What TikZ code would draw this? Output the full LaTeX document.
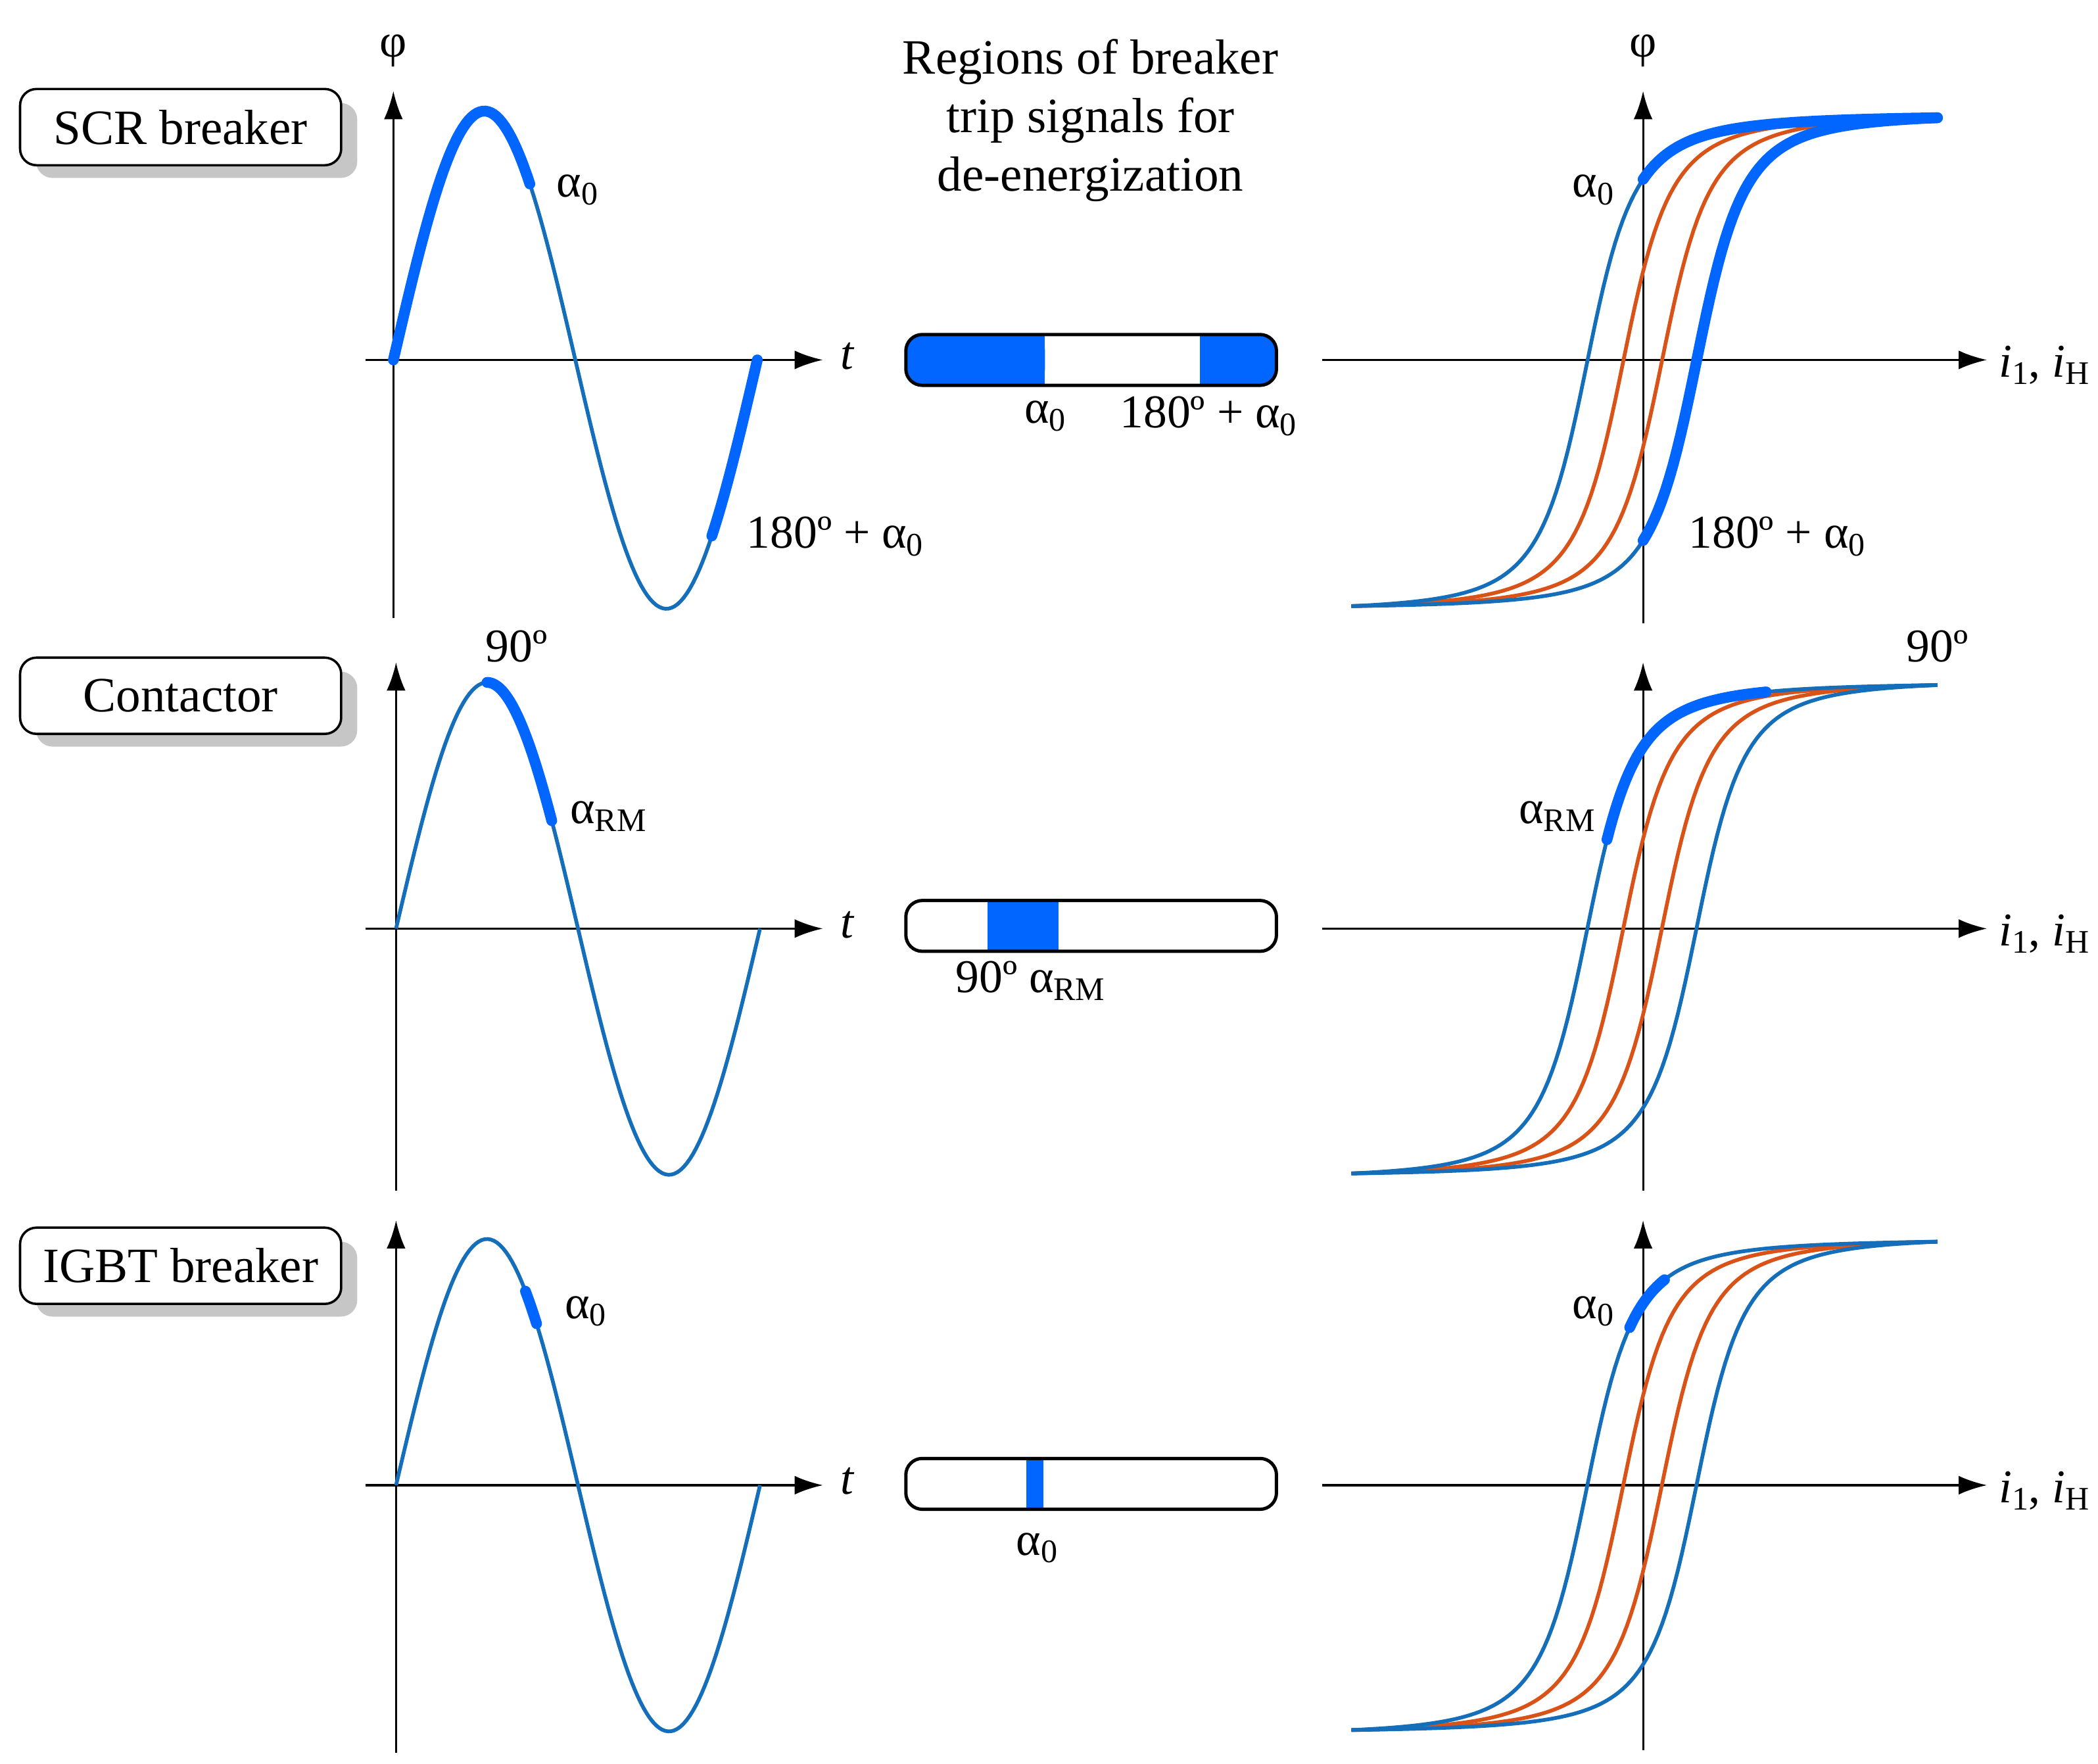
\documentclass[tikz,border=0pt]{standalone}
\usepackage{fontspec}
\setmainfont{Liberation Serif}
\usetikzlibrary{arrows.meta}
\definecolor{cb}{RGB}{20,110,185}
\definecolor{tb}{RGB}{0,102,255}
\definecolor{co}{RGB}{217,83,25}
\newcommand\lo[1]{\raisebox{-0.35ex}{\fontsize{14}{14}\selectfont #1}}
\begin{document}
\begin{tikzpicture}[x=0.02cm,y=-0.02cm,
  ax/.style={line width=0.9pt,-{Latex[length=12pt,width=8pt]}},
  thin/.style={cb,line width=1.6pt},
  thk/.style={tb,line width=4.6pt,line cap=round},
  orn/.style={co,line width=1.6pt},
  lab/.style={font=\fontsize{20}{22}\selectfont,inner sep=1pt},
  box/.style={draw,line width=1pt,rounded corners=7pt,fill=white,minimum width=240*0.02cm,minimum height=57*0.02cm,font=\fontsize{21}{22}\selectfont},
  bar/.style={draw,line width=1.4pt,rounded corners=7pt},
  declare function={tf(\x,\c)=((\x-\c)/38)/sqrt(1+((\x-\c)/38)^2);
    hy(\x,\c,\t,\b)=\b-(\b-\t)*(tf(\x,\c)-tf(1010,\c))/(tf(1448,\c)-tf(1010,\c));}]
\useasboundingbox (0,0) rectangle (1568,1318);
% labels boxes
\foreach \yy/\tx/\nm in {95/SCR breaker/b1,520/Contactor/b2,946/IGBT breaker/b3}{
  \fill[gray!45,rounded corners=7pt] (27,\yy-18) rectangle (267,\yy+38);
  \node[box] (\nm) at (135,\yy) {\tx};
}
\node[lab,align=center,font=\fontsize{21}{25}\selectfont] (title) at (815,90) {Regions of breaker\\trip signals for\\de-energization};
% left sine panels
\foreach \ox/\oy/\top/\bot/\A/\n in {294/269/68/462/186/1,296/694/495/890/184/2,296/1110/912/1310/184/3}{
  \draw[ax] (273,\oy) -- (615,\oy) coordinate (t\n);
  \draw[ax] (\ox,\bot) -- (\ox,\top) coordinate (p\n);
  \node[lab,font=\fontsize{20}{22}\selectfont\itshape] at (633,\oy-3) {t};
  \draw[thin] plot[domain=0:360,samples=120] ({\ox+\x/360*272},{\oy-\A*sin(\x)});
}
\node[lab] at (294,38) {φ};
% thick sine segments
\draw[thk] plot[domain=0:135,samples=50] ({294+\x/360*272},{269-186*sin(\x)});
\draw[thk] plot[domain=315:360,samples=30] ({294+\x/360*272},{269-186*sin(\x)});
\draw[thk] plot[domain=90:154,samples=40] ({296+\x/360*272},{694-184*sin(\x)});
\draw[thk] plot[domain=128:139,samples=10] ({296+\x/360*272},{1110-184*sin(\x)});
\node[lab,anchor=west] at (414,142) {α\lo{0}};
\node[lab,anchor=west] at (556,401) {180º + α\lo{0}};
\node[lab] at (386,483) {90º};
\node[lab,anchor=west] at (424,610) {α\lo{RM}};
\node[lab,anchor=west] at (420,980) {α\lo{0}};
% bars
\fill[tb,rounded corners=7pt] (677,250) rectangle (781,288);
\fill[tb,rounded corners=7pt] (897,250) rectangle (954,288);
\fill[tb] (760,250) rectangle (781,288);
\fill[tb] (897,250) rectangle (920,288);
\draw[bar] (677,250) rectangle (954,288);
\fill[tb] (738,673) rectangle (791,711);
\draw[bar] (677,673) rectangle (954,711);
\fill[tb] (767,1090) rectangle (780,1128);
\draw[bar] (677,1090) rectangle (954,1128);
\node[lab] at (781,311) {α\lo{0}};
\node[lab] at (903,311) {180º + α\lo{0}};
\node[lab] at (770,733) {90º α\lo{RM}};
\node[lab] at (775,1157) {α\lo{0}};
% right hysteresis panels
\foreach \oy/\T/\B/\top/\bot/\n in {269/88/453/68/466/1,694/512/877/495/890/2,1110/928/1293/912/1308/3}{
  \draw[ax] (988,\oy) -- (1485,\oy) coordinate (h\n);
  \draw[ax] (1228,\bot) -- (1228,\top) coordinate (q\n);
  \node[lab,anchor=west] at (1492,\oy+4) {\textit{i}\lo{1}, \textit{i}\lo{H}};
  \foreach \c in {1213,1242}
    \draw[orn] plot[domain=1010:1448,samples=150] (\x,{hy(\x,\c,\T,\B)});
  \foreach \c in {1186,1268}
    \draw[thin] plot[domain=1010:1448,samples=150] (\x,{hy(\x,\c,\T,\B)});
}
\node[lab] at (1228,38) {φ};
\draw[thk] plot[domain=1228:1448,samples=80] (\x,{hy(\x,1186,88,453)});
\draw[thk] plot[domain=1228:1448,samples=80] (\x,{hy(\x,1268,88,453)});
\draw[thk] plot[domain=1201:1320,samples=60] (\x,{hy(\x,1186,512,877)});
\draw[thk] plot[domain=1218:1244,samples=20] (\x,{hy(\x,1186,928,1293)});
\node[lab,anchor=east] at (1208,142) {α\lo{0}};
\node[lab,anchor=west] at (1260,401) {180º + α\lo{0}};
\node[lab] at (1448,483) {90º};
\node[lab,anchor=east] at (1194,610) {α\lo{RM}};
\node[lab,anchor=east] at (1208,980) {α\lo{0}};
\end{tikzpicture}
\end{document}
